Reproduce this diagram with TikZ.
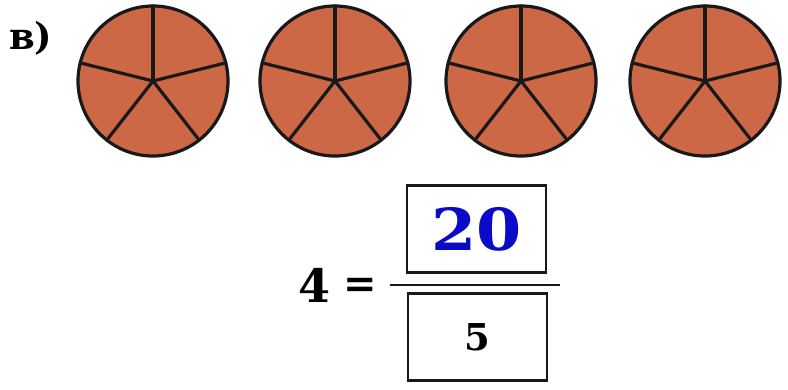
\documentclass[tikz,border=0pt]{standalone}
\usepackage{fontspec}
\setmainfont{DejaVu Serif}
\definecolor{pie}{RGB}{204,104,70}
\definecolor{ansblue}{RGB}{10,10,200}
\tikzset{
  disc/.style={fill=pie, draw=black!90, line width=3.2pt},
  spoke/.style={draw=black!90, line width=3.2pt, line cap=round},
  ansbox/.style={draw=black!90, line width=2.8pt, minimum width=139pt, minimum height=87pt, inner sep=0pt},
  lbl/.style={inner sep=0pt, font=\bfseries}
}
\begin{document}
\begin{tikzpicture}[x=1pt,y=-1pt]
\useasboundingbox (0,0) rectangle (788,389);
\node[lbl, anchor=base west, font=\bfseries\fontsize{37}{39}\selectfont] (label) at (9,49) {в)};
\foreach \cx/\nm in {153/a,335/b,521/c,705/d}{
  \coordinate (\nm) at (\cx,81);
  \draw[disc] (\nm) circle[radius=75];
  \foreach \ang in {-90,-166,-232,-308,-14}{
    \draw[spoke] (\nm) -- ++(\ang:75);
  }
}
\node[ansbox] (top) at (476.5,229) {};
\node[ansbox] (bot) at (477.5,337) {};
\coordinate (fl) at (390,284.5);
\coordinate (fr) at (560,284.5);
\draw[draw=black!90, line width=2pt] (fl) -- (fr);
\node[lbl, text=ansblue, font=\bfseries\fontsize{58}{60}\selectfont] (n20) at (top.center) {\scalebox{1.12}[1]{20}};
\node[lbl, font=\bfseries\fontsize{37}{40}\selectfont] (n5) at (bot.center) {5};
\node[lbl, font=\bfseries\fontsize{46}{48}\selectfont] (n4) at (315,285) {4};
\node[lbl, font=\bfseries\fontsize{40}{42}\selectfont] (eq) at (360,288) {=};
\end{tikzpicture}
\end{document}
